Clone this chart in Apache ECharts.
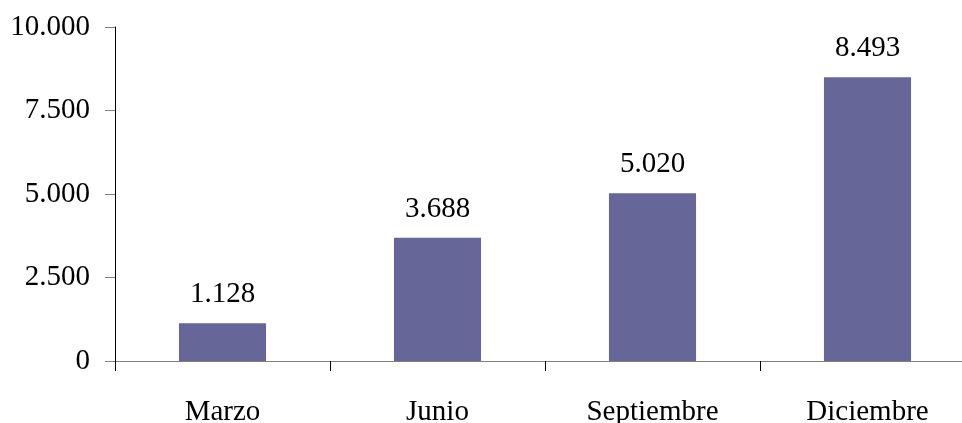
<!DOCTYPE html>
<html>
<head>
<meta charset="utf-8">
<script src="https://cdn.jsdelivr.net/npm/echarts@6/dist/echarts.min.js"></script>
<style>
  html, body { margin: 0; padding: 0; background: #fff; }
  #chart { width: 962px; height: 423px; }
</style>
</head>
<body>
<div id="chart"></div>
<script>
// Quarterly totals
const categories = ['Marzo', 'Junio', 'Septiembre', 'Diciembre'];
const values = [1128, 3688, 5020, 8493];
const yTicks = [0, 2500, 5000, 7500, 10000];

const serif = "'Liberation Serif', 'Times New Roman', serif";
const fmt = v => String(v).replace(/\B(?=(\d{3})+(?!\d))/g, '.');

const chart = echarts.init(document.getElementById('chart'), null, { renderer: 'canvas' });
chart.setOption({
  animation: false,
  backgroundColor: '#ffffff',
  // the plot area runs slightly past the right edge of the canvas
  grid: { left: 115, top: 27, width: 860, height: 334, containLabel: false, outerBoundsMode: 'none' },
  xAxis: {
    type: 'category',
    data: categories,
    boundaryGap: true,
    axisLine: { lineStyle: { color: '#808080', width: 1 } },
    axisTick: { show: true, length: 10, lineStyle: { color: '#000000', width: 1 } },
    axisLabel: { color: '#000', fontFamily: serif, fontSize: 29, margin: 37 }
  },
  yAxis: {
    type: 'value',
    min: yTicks[0],
    max: yTicks[yTicks.length - 1],
    interval: yTicks[1] - yTicks[0],
    splitLine: { show: false },
    axisLine: { show: true, lineStyle: { color: '#000000', width: 1 } },
    axisTick: { show: true, length: 10, lineStyle: { color: '#808080', width: 1 } },
    axisLabel: { color: '#000', fontFamily: serif, fontSize: 29, margin: 25, formatter: v => fmt(v) }
  },
  series: [{
    type: 'bar',
    data: values,
    barWidth: '40.5%',
    itemStyle: { color: '#666699' },
    label: {
      show: true,
      position: 'top',
      distance: 14,
      color: '#000',
      fontFamily: serif,
      fontSize: 29,
      formatter: p => fmt(p.value)
    }
  }]
});
</script>
</body>
</html>
